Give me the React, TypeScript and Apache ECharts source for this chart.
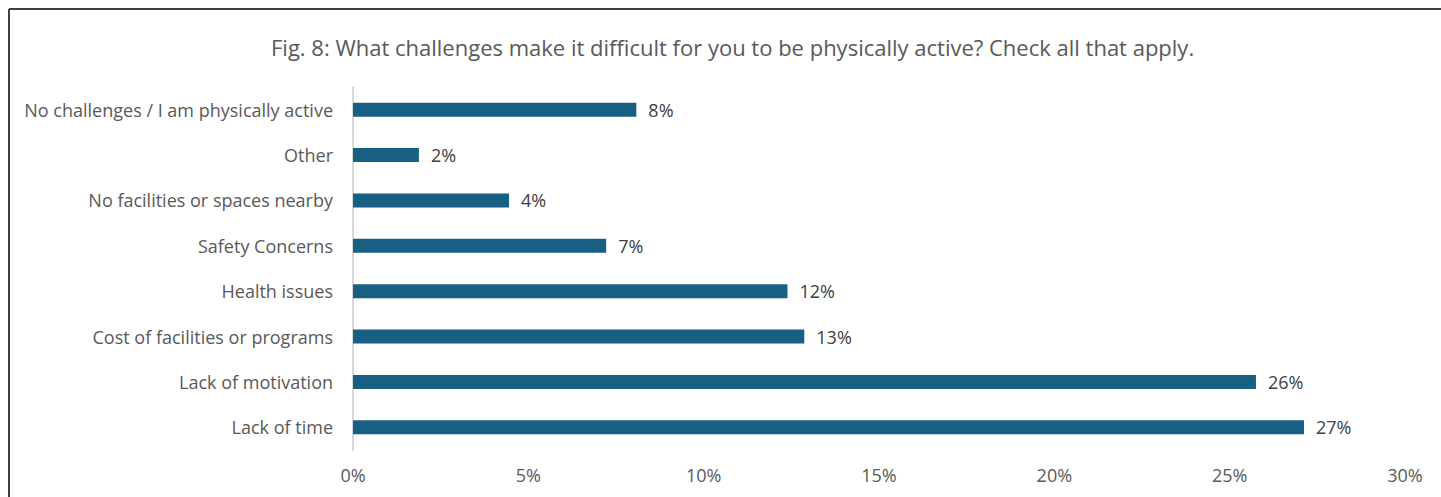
import React, { useEffect, useRef } from "react";
import * as echarts from "echarts";

const titleText =
  "Fig. 8: What challenges make it difficult for you to be physically active? Check all that apply.";
const categories = [
  "No challenges / I am physically active",
  "Other",
  "No facilities or spaces nearby",
  "Safety Concerns",
  "Health issues",
  "Cost of facilities or programs",
  "Lack of motivation",
  "Lack of time",
];
const values = [8.08, 1.88, 4.45, 7.22, 12.39, 12.87, 25.75, 27.12];
const xTicks = { min: 0, max: 30, interval: 5 };

const FONT = "'Open Sans', sans-serif";

export default function App() {
  const ref = useRef<HTMLDivElement>(null);
  useEffect(() => {
    document.body.style.margin = "0";
    const chart = echarts.init(ref.current!, null, { renderer: "svg" });
    chart.setOption({
      animation: false,
      backgroundColor: "#ffffff",
      title: {
        text: titleText,
        left: 266,
        top: 31,
        textStyle: { fontFamily: FONT, fontSize: 22, fontWeight: "normal", color: "#595959" },
      },
      graphic: [
        { type: "line", shape: { x1: 9, y1: 9, x2: 1441, y2: 9 }, style: { stroke: "#404040", lineWidth: 2 } },
        { type: "line", shape: { x1: 9, y1: 9, x2: 9, y2: 497 }, style: { stroke: "#404040", lineWidth: 2 } },
      ],
      grid: { left: 353, right: 36, top: 87, bottom: 47 },
      xAxis: {
        type: "value",
        min: xTicks.min,
        max: xTicks.max,
        interval: xTicks.interval,
        axisLine: { show: false },
        axisTick: { show: false },
        splitLine: { show: false },
        axisLabel: {
          formatter: "{value}%",
          color: "#595959",
          fontFamily: FONT,
          fontSize: 18,
          margin: 16,
        },
      },
      yAxis: {
        type: "category",
        inverse: true,
        data: categories,
        axisLine: { show: true, lineStyle: { color: "#d9d9d9", width: 2 } },
        axisTick: { show: false },
        axisLabel: { color: "#595959", fontFamily: FONT, fontSize: 18, margin: 20 },
      },
      series: [
        {
          type: "bar",
          data: values,
          barWidth: 14,
          itemStyle: { color: "#176083" },
          label: {
            show: true,
            position: "right",
            distance: 12,
            color: "#404040",
            fontFamily: FONT,
            fontSize: 18,
            formatter: (p: any) => Math.round(p.value) + "%",
          },
        },
      ],
    });
    return () => chart.dispose();
  }, []);
  return <div ref={ref} style={{ width: 1441, height: 497 }} />;
}
